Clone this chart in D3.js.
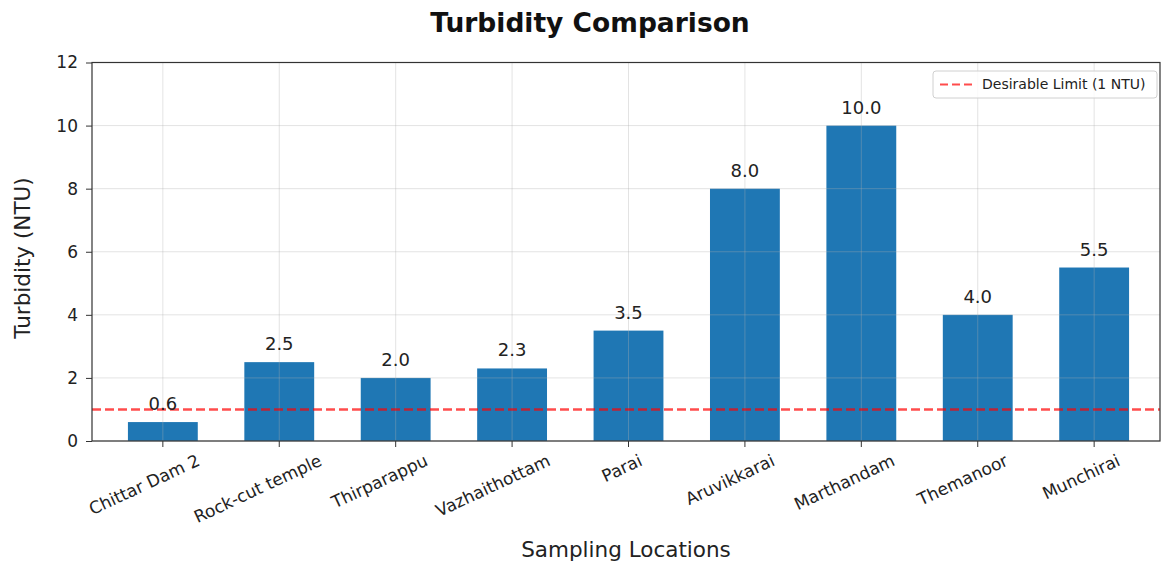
<!DOCTYPE html>
<html><head><meta charset="utf-8">
<script src="https://cdn.jsdelivr.net/npm/d3@7"></script>
<style>body{margin:0;background:#fff;} text{font-family:"DejaVu Sans",sans-serif;}</style>
</head><body>
<svg id="c" width="1162" height="568"></svg>
<script>
const categories = ["Chittar Dam 2","Rock-cut temple","Thirparappu","Vazhaithottam","Parai","Aruvikkarai","Marthandam","Themanoor","Munchirai"];
const turbidity = [0.6, 2.5, 2.0, 2.3, 3.5, 8.0, 10.0, 4.0, 5.5];
const yTicks = [0, 2, 4, 6, 8, 10, 12];
const limitValue = 1;
const legendLabel = "Desirable Limit (1 NTU)";

const svg = d3.select("#c");
const L = 92, R = 1160, T = 62.5, B = 441;
const x = d3.scaleBand().domain(categories).range([93, 1164]).paddingInner(0.4).paddingOuter(0.3);
const y = d3.scaleLinear().domain([0, 12]).range([B, T]);

// grid
const grid = svg.append("g");
// bars
svg.append("g").selectAll("rect").data(turbidity).join("rect")
  .attr("x", (d,i) => x(categories[i]))
  .attr("width", x.bandwidth())
  .attr("y", d => y(d))
  .attr("height", d => B - y(d))
  .attr("fill", "#1f77b4");
grid.raise();
grid.selectAll("line.h").data(yTicks).join("line")
  .attr("x1", L).attr("x2", R).attr("y1", d => y(d)).attr("y2", d => y(d))
  .attr("stroke", "#b0b0b0").attr("stroke-opacity", 0.35).attr("stroke-width", 1);
grid.selectAll("line.v").data(categories).join("line")
  .attr("y1", T).attr("y2", B).attr("x1", d => x(d) + x.bandwidth()/2).attr("x2", d => x(d) + x.bandwidth()/2)
  .attr("stroke", "#b0b0b0").attr("stroke-opacity", 0.35).attr("stroke-width", 1);

// limit line
svg.append("line").attr("x1", L).attr("x2", R).attr("y1", y(limitValue)).attr("y2", y(limitValue))
  .attr("stroke", "red").attr("stroke-opacity", 0.7).attr("stroke-width", 2.4).attr("stroke-dasharray", "9,4");

// value labels
svg.append("g").selectAll("text").data(turbidity).join("text")
  .attr("x", (d,i) => x(categories[i]) + x.bandwidth()/2)
  .attr("y", d => y(d) - 12)
  .attr("text-anchor", "middle").attr("font-size", 18).attr("fill", "#222")
  .text(d => d.toFixed(1));

// frame
svg.append("rect").attr("x", L).attr("y", T).attr("width", R - L).attr("height", B - T)
  .attr("fill", "none").attr("stroke", "#333").attr("stroke-width", 1.2);

// y axis
const yAxis = svg.append("g").attr("transform", `translate(${L},0)`)
  .call(d3.axisLeft(y).tickValues(yTicks).tickSize(6).tickPadding(8).tickFormat(d3.format("d")));
yAxis.select(".domain").remove();
yAxis.selectAll("line").attr("stroke", "#333");
yAxis.selectAll("text").attr("font-size", 17).attr("fill", "#222").attr("font-family", "DejaVu Sans");

// x axis ticks
const xAxis = svg.append("g").attr("transform", `translate(0,${B})`)
  .call(d3.axisBottom(x).tickSize(6).tickFormat(""));
xAxis.select(".domain").remove();
xAxis.selectAll("line").attr("stroke", "#333");

// x tick labels rotated
const ang = 25, rad = ang * Math.PI / 180;
const fs = 17;
svg.append("g").selectAll("text").data(categories).join("text")
  .attr("font-size", fs).attr("fill", "#222").attr("text-anchor", "end")
  .text(d => d)
  .each(function(d) {
    const w = this.getComputedTextLength();
    const bw = w * Math.cos(rad) + fs * 0.42;
    const px = x(d) + x.bandwidth()/2 + 0.33 * bw;
    const py = 453 + Math.cos(rad) * 0.76 * fs;
    d3.select(this).attr("transform", `translate(${px},${py}) rotate(${-ang})`);
  });

// axis labels
svg.append("text").attr("x", 626).attr("y", 557).attr("text-anchor", "middle")
  .attr("font-size", 21.5).attr("fill", "#222").text("Sampling Locations");
svg.append("text").attr("transform", "translate(30,258) rotate(-90)").attr("text-anchor", "middle")
  .attr("font-size", 21.5).attr("fill", "#222").text("Turbidity (NTU)");

// title
svg.append("text").attr("x", 590).attr("y", 32).attr("text-anchor", "middle")
  .attr("font-size", 26.5).attr("font-weight", "bold").attr("fill", "#111").text("Turbidity Comparison");

// legend
const lg = svg.append("g");
lg.append("rect").attr("x", 933).attr("y", 71).attr("width", 224).attr("height", 27).attr("rx", 3)
  .attr("fill", "#fff").attr("fill-opacity", 0.8).attr("stroke", "#d0d0d0");
lg.append("line").attr("x1", 940).attr("x2", 972).attr("y1", 84.5).attr("y2", 84.5)
  .attr("stroke", "red").attr("stroke-opacity", 0.7).attr("stroke-width", 2.2).attr("stroke-dasharray", "8,4");
lg.append("text").attr("x", 982).attr("y", 89).attr("font-size", 14).attr("fill", "#222").text(legendLabel);
</script>
</body></html>
